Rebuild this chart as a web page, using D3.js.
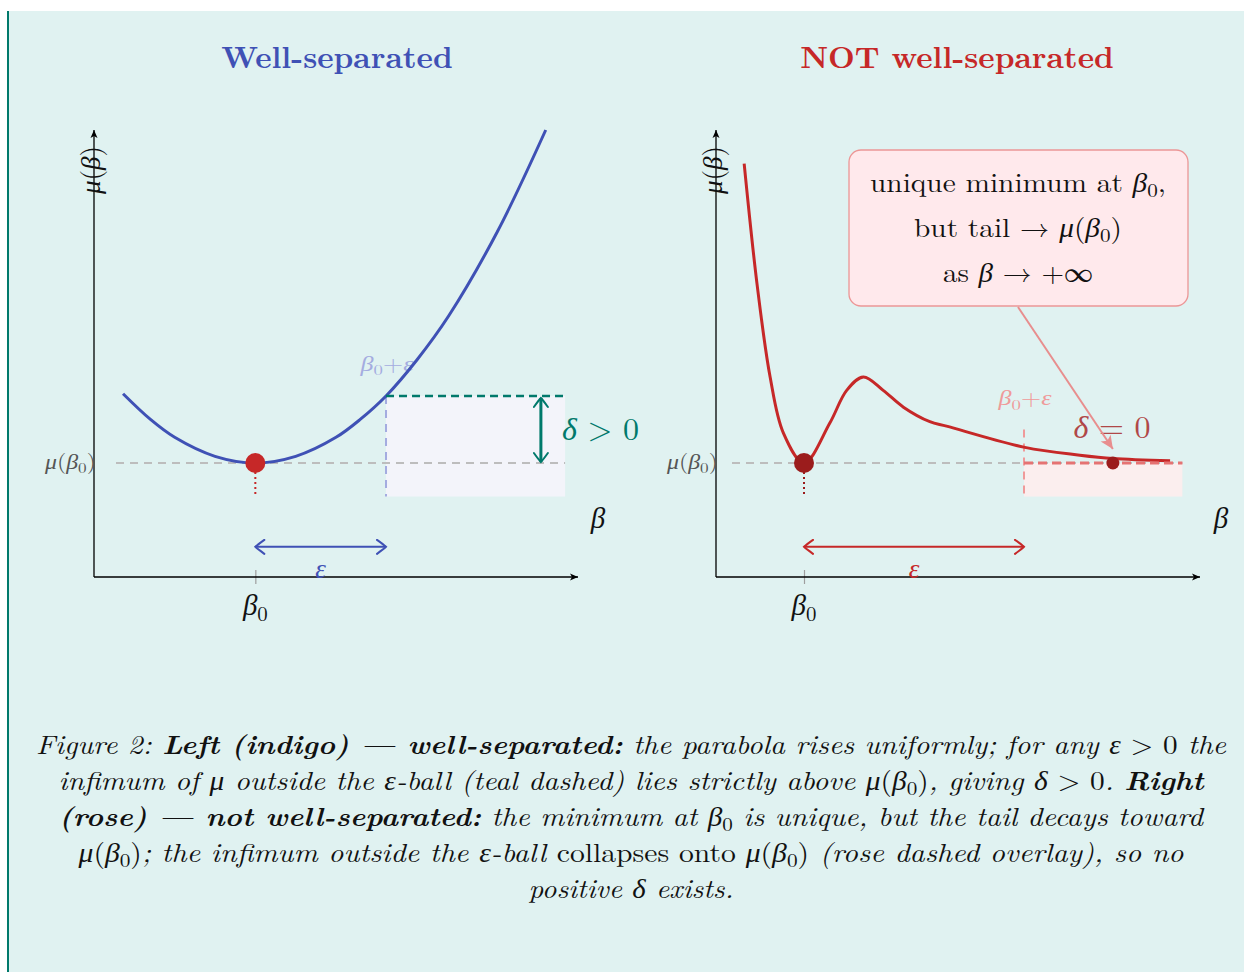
<!DOCTYPE html>
<html>
<head>
<meta charset="utf-8">
<script src="https://cdn.jsdelivr.net/npm/d3@7"></script>
<style>
body { margin: 0; background: #fff; }
svg { display: block; }
text { font-family: "Latin Modern Roman", "Liberation Serif", serif; }
</style>
</head>
<body>
<div id="chart"></div>
<script>
// values
var leftBeta = [-0.82, -0.65, -0.5, -0.25, 0, 0.25, 0.5, 0.65, 0.81, 1.0, 1.2, 1.5, 1.8];
var leftMu   = [1.64, 1.41, 1.25, 1.08, 1.02, 1.08, 1.25, 1.41, 1.62, 1.94, 2.34, 3.09, 4.0];
var rightBeta = [0.64, 0.93, 1.23, 1.53, 2.0, 2.59, 2.97, 3.35, 3.80, 4.26, 4.86, 5.24, 7.02, 8.27, 9.02, 10.32];
var rightMu   = [3.70, 2.63, 1.79, 1.29, 1.02, 1.38, 1.67, 1.79, 1.67, 1.52, 1.39, 1.35, 1.16, 1.09, 1.06, 1.04];
var mu0 = 1.02;
var leftEps = 0.81, rightEps = 5, rightBeta0 = 2, leftBeta0 = 0;
var leftDeltaTop = 1.62;     // inf of mu outside the ball (left)
var tailPoint = [9.02, 1.02];
var titles = ["Well-separated", "NOT well-separated"];
var calloutLines = [
  [["unique minimum at ", "r"], ["β", "i"], ["0", "sub"], [",", "r"]],
  [["but tail → ", "r"], ["μ", "i"], ["(", "r"], ["β", "i"], ["0", "sub"], [")", "r"]],
  [["as ", "r"], ["β", "i"], [" → +∞", "r"]]
];
var calloutWidths = [296, 208, 150];
var captionLines = [
  [["Figure 2: ", "i"], ["Left (indigo) — well-separated:", "b"], [" the parabola rises uniformly; for any ", "i"], ["ε", "i"], [" > 0", "r"], [" the", "i"]],
  [["infimum of ", "i"], ["μ", "i"], [" outside the ", "i"], ["ε", "i"], ["-ball (teal dashed) lies strictly above ", "i"], ["μ", "i"], ["(", "r"], ["β", "i"], ["0", "sub"], [")", "r"], [", giving ", "i"], ["δ", "i"], [" > 0", "r"], [". ", "i"], ["Right", "b"]],
  [["(rose) — not well-separated:", "b"], [" the minimum at ", "i"], ["β", "i"], ["0", "sub"], [" is unique, but the tail decays toward", "i"]],
  [["μ", "i"], ["(", "r"], ["β", "i"], ["0", "sub"], [")", "r"], ["; the infimum outside the ", "i"], ["ε", "i"], ["-ball ", "i"], ["collapses onto ", "r"], ["μ", "i"], ["(", "r"], ["β", "i"], ["0", "sub"], [")", "r"], [" (rose dashed overlay), so no", "i"]],
  [["positive ", "i"], ["δ", "i"], [" exists.", "i"]]
];
var captionWidths = [1190, 1145, 1144, 1105, 205];

var W = 1244, H = 972;
var svg = d3.select('#chart').append('svg').attr('width', W).attr('height', H);

var defs = svg.append('defs');
function chevron(id, color) {
  defs.append('marker').attr('id', id)
      .attr('viewBox', '-12 -8 14 16').attr('refX', 0).attr('refY', 0)
      .attr('markerWidth', 14).attr('markerHeight', 16)
      .attr('markerUnits', 'userSpaceOnUse').attr('orient', 'auto-start-reverse')
    .append('path').attr('d', 'M-9,-7 Q-2,-2 0,0 Q-2,2 -9,7')
      .attr('fill', 'none').attr('stroke', color).attr('stroke-width', 2).attr('stroke-linecap', 'round');
}
chevron('chevIndigo', '#3f51b5');
chevron('chevRed', '#c62828');
chevron('chevTeal', '#00796b');
defs.append('marker').attr('id', 'axisHead')
    .attr('viewBox', '-9 -5 10 10').attr('refX', 0).attr('refY', 0)
    .attr('markerWidth', 10).attr('markerHeight', 10)
    .attr('markerUnits', 'userSpaceOnUse').attr('orient', 'auto')
  .append('path').attr('d', 'M-8,-3.5 L0,0 L-8,3.5 L-6,0 Z').attr('fill', '#000');
defs.append('marker').attr('id', 'pinkHead')
    .attr('viewBox', '-14 -7 15 14').attr('refX', 0).attr('refY', 0)
    .attr('markerWidth', 15).attr('markerHeight', 14)
    .attr('markerUnits', 'userSpaceOnUse').attr('orient', 'auto')
  .append('path').attr('d', 'M-13,-6 L0,0 L-13,6 L-10,0 Z').attr('fill', '#e88e8e');

// page background
svg.append('rect').attr('x', 9).attr('y', 11).attr('width', W - 9).attr('height', H - 11).attr('fill', '#e0f2f1');
svg.append('line').attr('x1', 8).attr('x2', 8).attr('y1', 11).attr('y2', H).attr('stroke', '#00796b').attr('stroke-width', 2);

function rich(sel, segs, size) {
  var shift = 0;
  segs.forEach(function(s) {
    var t = sel.append('tspan').text(s[0]);
    if (s[1] === 'sub') {
      t.attr('font-size', size * 0.72).attr('dy', size * 0.2 - shift).attr('font-style', 'normal');
      shift = size * 0.2;
    } else {
      if (shift) { t.attr('dy', -shift); shift = 0; }
      t.attr('font-style', (s[1] === 'r') ? 'normal' : 'italic')
       .attr('font-weight', (s[1] === 'b') ? 'bold' : 'normal');
    }
  });
  return sel;
}

var y = d3.scaleLinear().domain([0, 4]).range([577, 130]);
var xL = d3.scaleLinear().domain([-1, 2]).range([94, 578]);
var xR = d3.scaleLinear().domain([0, 11]).range([716, 1200]);

function panel(opt) {
  var x = opt.x, g = svg.append('g');
  var b0 = opt.beta0, be = opt.beta0 + opt.eps;
  var x0 = x.range()[0], x1 = x.range()[1];

  // shaded region outside the ball
  g.append('rect').attr('x', x(be)).attr('y', y(opt.boxTop))
    .attr('width', x(opt.boxEnd) - x(be)).attr('height', y(0.72) - y(opt.boxTop))
    .attr('fill', opt.boxFill);

  // axes (tick at beta0 via d3 axis)
  var ax = g.append('g').attr('transform', 'translate(0,' + y(0) + ')')
    .call(d3.axisBottom(x).tickValues([b0]).tickFormat('').tickSizeOuter(0).tickSizeInner(7));
  ax.select('.domain').remove();
  ax.selectAll('.tick line').attr('y1', -7).attr('y2', 7).attr('stroke', '#9e9e9e').attr('stroke-width', 1.2);
  g.append('line').attr('x1', x0).attr('x2', x1).attr('y1', y(0)).attr('y2', y(0))
    .attr('stroke', '#000').attr('stroke-width', 1.3).attr('marker-end', 'url(#axisHead)');
  g.append('line').attr('x1', x0).attr('x2', x0).attr('y1', y(0)).attr('y2', y(4))
    .attr('stroke', '#000').attr('stroke-width', 1.3).attr('marker-end', 'url(#axisHead)');

  // mu(beta0) level
  g.append('line').attr('x1', x0 + opt.levelStart).attr('x2', x(opt.boxEnd)).attr('y1', y(mu0)).attr('y2', y(mu0))
    .attr('stroke', '#bdbdbd').attr('stroke-width', 2).attr('stroke-dasharray', '8,6');

  // vertical boundary of the ball
  g.append('line').attr('x1', x(be)).attr('x2', x(be)).attr('y1', y(opt.vTop)).attr('y2', y(0.72))
    .attr('stroke', opt.light).attr('stroke-width', 2).attr('stroke-dasharray', '8,6');
  g.append('text').attr('x', x(be) + opt.labDx).attr('y', y(opt.vTop) - opt.labLift).attr('text-anchor', 'middle')
    .attr('font-size', 21).attr('fill', opt.light).attr('textLength', 53).attr('lengthAdjust', 'spacingAndGlyphs')
    .call(rich, [['β', 'i'], ['0', 'sub'], ['+', 'r'], ['ε', 'i']], 21);

  // dotted drop from minimum
  g.append('line').attr('x1', x(b0)).attr('x2', x(b0)).attr('y1', y(mu0) + 9).attr('y2', y(0.72))
    .attr('stroke', opt.dotColor).attr('stroke-width', 2).attr('stroke-dasharray', '2,3');

  // curve
  var line = d3.line().x(function(d) { return x(d[0]); }).y(function(d) { return y(d[1]); })
    .curve(d3.curveCatmullRom.alpha(0.5));
  g.append('path').datum(d3.zip(opt.beta, opt.mu)).attr('d', line)
    .attr('fill', 'none').attr('stroke', opt.color).attr('stroke-width', 3);

  g.append('circle').attr('cx', x(b0)).attr('cy', y(mu0)).attr('r', 10).attr('fill', opt.dotColor);

  // epsilon arrow
  g.append('line').attr('x1', x(b0)).attr('x2', x(be)).attr('y1', y(0.27)).attr('y2', y(0.27))
    .attr('stroke', opt.color).attr('stroke-width', 2)
    .attr('marker-start', 'url(#' + opt.chev + ')').attr('marker-end', 'url(#' + opt.chev + ')');
  g.append('text').attr('x', (x(b0) + x(be)) / 2).attr('y', y(0) + 1).attr('text-anchor', 'middle')
    .attr('font-size', 27).attr('font-style', 'italic').attr('fill', opt.color).text('ε');

  // labels
  g.append('text').attr('x', x(b0)).attr('y', 615).attr('text-anchor', 'middle').attr('font-size', 29).attr('fill', '#111')
    .call(rich, [['β', 'i'], ['0', 'sub']], 29);
  g.append('text').attr('x', x1 + opt.betaLabDx).attr('y', 528).attr('text-anchor', 'middle')
    .attr('font-size', 29).attr('font-style', 'italic').attr('fill', '#111').text('β');
  g.append('text').attr('x', x0 + 2).attr('y', y(mu0) + 6).attr('text-anchor', 'end').attr('font-size', 21).attr('fill', '#555')
    .attr('textLength', 51).attr('lengthAdjust', 'spacingAndGlyphs')
    .call(rich, [['μ', 'i'], ['(', 'r'], ['β', 'i'], ['0', 'sub'], [')', 'r']], 21);
  g.append('text').attr('transform', 'translate(' + (x0 + 6) + ',170) rotate(-90)').attr('text-anchor', 'middle')
    .attr('font-size', 27).attr('fill', '#111')
    .call(rich, [['μ', 'i'], ['(', 'r'], ['β', 'i'], [')', 'r']], 27);

  g.append('text').attr('x', opt.titleX).attr('y', 68).attr('text-anchor', 'middle')
    .attr('font-size', 31).attr('font-weight', 'bold').attr('fill', opt.color).text(opt.title);
  return g;
}

var gl = panel({
  x: xL, beta: leftBeta, mu: leftMu, beta0: leftBeta0, eps: leftEps, boxTop: leftDeltaTop, boxEnd: 1.92,
  boxFill: '#f3f4fa', light: '#a4ace0', vTop: leftDeltaTop, labLift: 25, labDx: 1, dotColor: '#c62828',
  color: '#3f51b5', chev: 'chevIndigo', levelStart: 22, betaLabDx: 20, titleX: 337, title: titles[0]
});
// teal delta > 0
gl.append('line').attr('x1', xL(leftBeta0 + leftEps)).attr('x2', xL(1.92)).attr('y1', y(leftDeltaTop)).attr('y2', y(leftDeltaTop))
  .attr('stroke', '#00796b').attr('stroke-width', 2.5).attr('stroke-dasharray', '8,5');
gl.append('line').attr('x1', xL(1.77)).attr('x2', xL(1.77)).attr('y1', y(leftDeltaTop) + 2).attr('y2', y(mu0) - 1)
  .attr('stroke', '#00796b').attr('stroke-width', 3)
  .attr('marker-start', 'url(#chevTeal)').attr('marker-end', 'url(#chevTeal)');
gl.append('text').attr('x', 562).attr('y', 440).attr('font-size', 32).attr('fill', '#00796b')
  .call(rich, [['δ', 'i'], [' > 0', 'r']], 32);

var gr = panel({
  x: xR, beta: rightBeta, mu: rightMu, beta0: rightBeta0, eps: rightEps, boxTop: mu0, boxEnd: 10.6,
  boxFill: '#fbeeee', light: '#ef9a9a', vTop: 1.32, labLift: 24, labDx: 1, dotColor: '#9b1c1c',
  color: '#c62828', chev: 'chevRed', levelStart: 16, betaLabDx: 21, titleX: 957, title: titles[1]
});
// rose dashed overlay
gr.append('line').attr('x1', xR(rightBeta0 + rightEps)).attr('x2', xR(10.6)).attr('y1', y(mu0)).attr('y2', y(mu0))
  .attr('stroke', '#e57373').attr('stroke-width', 3).attr('stroke-dasharray', '9,5');
gr.append('circle').attr('cx', xR(tailPoint[0])).attr('cy', y(tailPoint[1])).attr('r', 6.5).attr('fill', '#9b1c1c');
gr.append('text').attr('x', 1112).attr('y', 438).attr('text-anchor', 'middle').attr('font-size', 32).attr('fill', '#b04848')
  .call(rich, [['δ', 'i'], [' = 0', 'r']], 32);

// callout
var cb = svg.append('g');
cb.append('rect').attr('x', 849).attr('y', 150).attr('width', 339).attr('height', 156).attr('rx', 12)
  .attr('fill', '#ffe9ec').attr('stroke', '#ec9696').attr('stroke-width', 1.3);
calloutLines.forEach(function(l, i) {
  cb.append('text').attr('x', 1018).attr('y', 192 + i * 45).attr('text-anchor', 'middle')
    .attr('font-size', 26.5).attr('fill', '#111')
    .attr('textLength', calloutWidths[i]).attr('lengthAdjust', 'spacingAndGlyphs')
    .call(rich, l, 26.5);
});
cb.append('line').attr('x1', 1018).attr('y1', 307).attr('x2', xR(tailPoint[0])).attr('y2', 449)
  .attr('stroke', '#e88e8e').attr('stroke-width', 2).attr('marker-end', 'url(#pinkHead)');

// caption
captionLines.forEach(function(l, i) {
  svg.append('text').attr('x', 631).attr('y', 754 + i * 36).attr('text-anchor', 'middle')
    .attr('font-size', 26.5).attr('fill', '#111')
    .attr('textLength', captionWidths[i]).attr('lengthAdjust', 'spacingAndGlyphs')
    .call(rich, l, 26.5);
});
</script>
</body>
</html>
